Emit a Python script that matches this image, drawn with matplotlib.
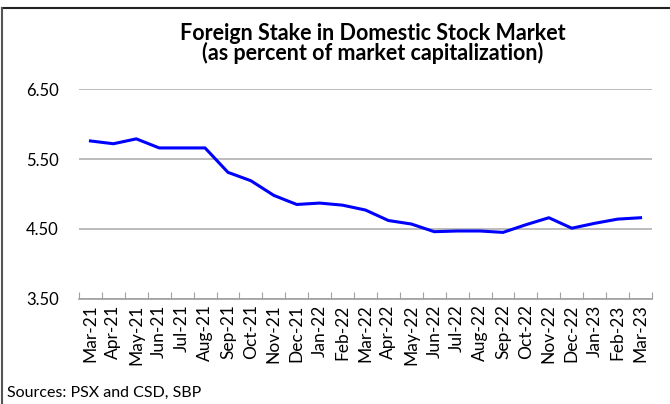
import matplotlib
matplotlib.use('Agg')
import matplotlib.pyplot as plt
from matplotlib.lines import Line2D

months = ['Mar-21', 'Apr-21', 'May-21', 'Jun-21', 'Jul-21', 'Aug-21', 'Sep-21',
          'Oct-21', 'Nov-21', 'Dec-21', 'Jan-22', 'Feb-22', 'Mar-22', 'Apr-22',
          'May-22', 'Jun-22', 'Jul-22', 'Aug-22', 'Sep-22', 'Oct-22', 'Nov-22',
          'Dec-22', 'Jan-23', 'Feb-23', 'Mar-23']
stake = [5.76, 5.72, 5.79, 5.66, 5.66, 5.66, 5.31, 5.19, 4.98, 4.85, 4.87,
         4.84, 4.77, 4.62, 4.57, 4.46, 4.47, 4.47, 4.45, 4.56, 4.66, 4.51,
         4.58, 4.64, 4.66]
yticks = [3.5, 4.5, 5.5, 6.5]

plt.rcParams['font.family'] = ['Lato', 'DejaVu Sans']

fig = plt.figure(figsize=(6.7, 4.04), dpi=100)
ax = fig.add_axes([79 / 670, 1 - 298.7 / 404, (652 - 79) / 670, (298.7 - 89.3) / 404])

x = list(range(len(months)))
ax.plot(x, stake, color='#0000ff', lw=2.2, solid_joinstyle='round')

ax.set_xlim(-0.5, len(months) - 0.5)
ax.set_ylim(3.5, 6.5)
ax.set_yticks(yticks)
ax.set_yticklabels(['%.2f' % v for v in yticks], fontsize=12)
ax.yaxis.grid(True, color='#b0b0b0', lw=1.2)
ax.set_axisbelow(True)
ax.tick_params(axis='y', length=0, pad=38)
for lab in ax.get_yticklabels():
    lab.set_horizontalalignment('left')

# boundary ticks between months, labels centred on each month
ax.set_xticks([i - 0.5 for i in range(len(months) + 1)], minor=False)
ax.set_xticklabels([])
ax.set_xticks(x, minor=True)
ax.set_xticklabels(months, minor=True, rotation=90, fontsize=12.5)
ax.tick_params(axis='x', which='major', length=5, color='#a0a0a0', direction='in')
ax.tick_params(axis='x', which='minor', length=0, pad=4)

for s in ['top', 'right', 'left']:
    ax.spines[s].set_visible(False)
ax.spines['bottom'].set_color('#a0a0a0')
ax.spines['bottom'].set_linewidth(1.2)

fig.text(0.556, 1 - 33 / 404, 'Foreign Stake in Domestic Stock Market',
         ha='center', va='center', fontsize=15.5, fontweight='bold')
fig.text(0.556, 1 - 53 / 404, '(as percent of market capitalization)',
         ha='center', va='center', fontsize=15.5, fontweight='bold')
fig.text(7 / 670, 1 - 393 / 404, 'Sources: PSX and CSD, SBP',
         ha='left', va='center', fontsize=11.5)

# outer frame: top and left edges only
fig.add_artist(Line2D([2 / 670, 1], [1 - 8 / 404, 1 - 8 / 404],
                      transform=fig.transFigure, color='#222222', lw=1.5))
fig.add_artist(Line2D([2 / 670, 2 / 670], [0, 1 - 8 / 404],
                      transform=fig.transFigure, color='#555555', lw=1.5))

fig.savefig('out.png', dpi=100)
